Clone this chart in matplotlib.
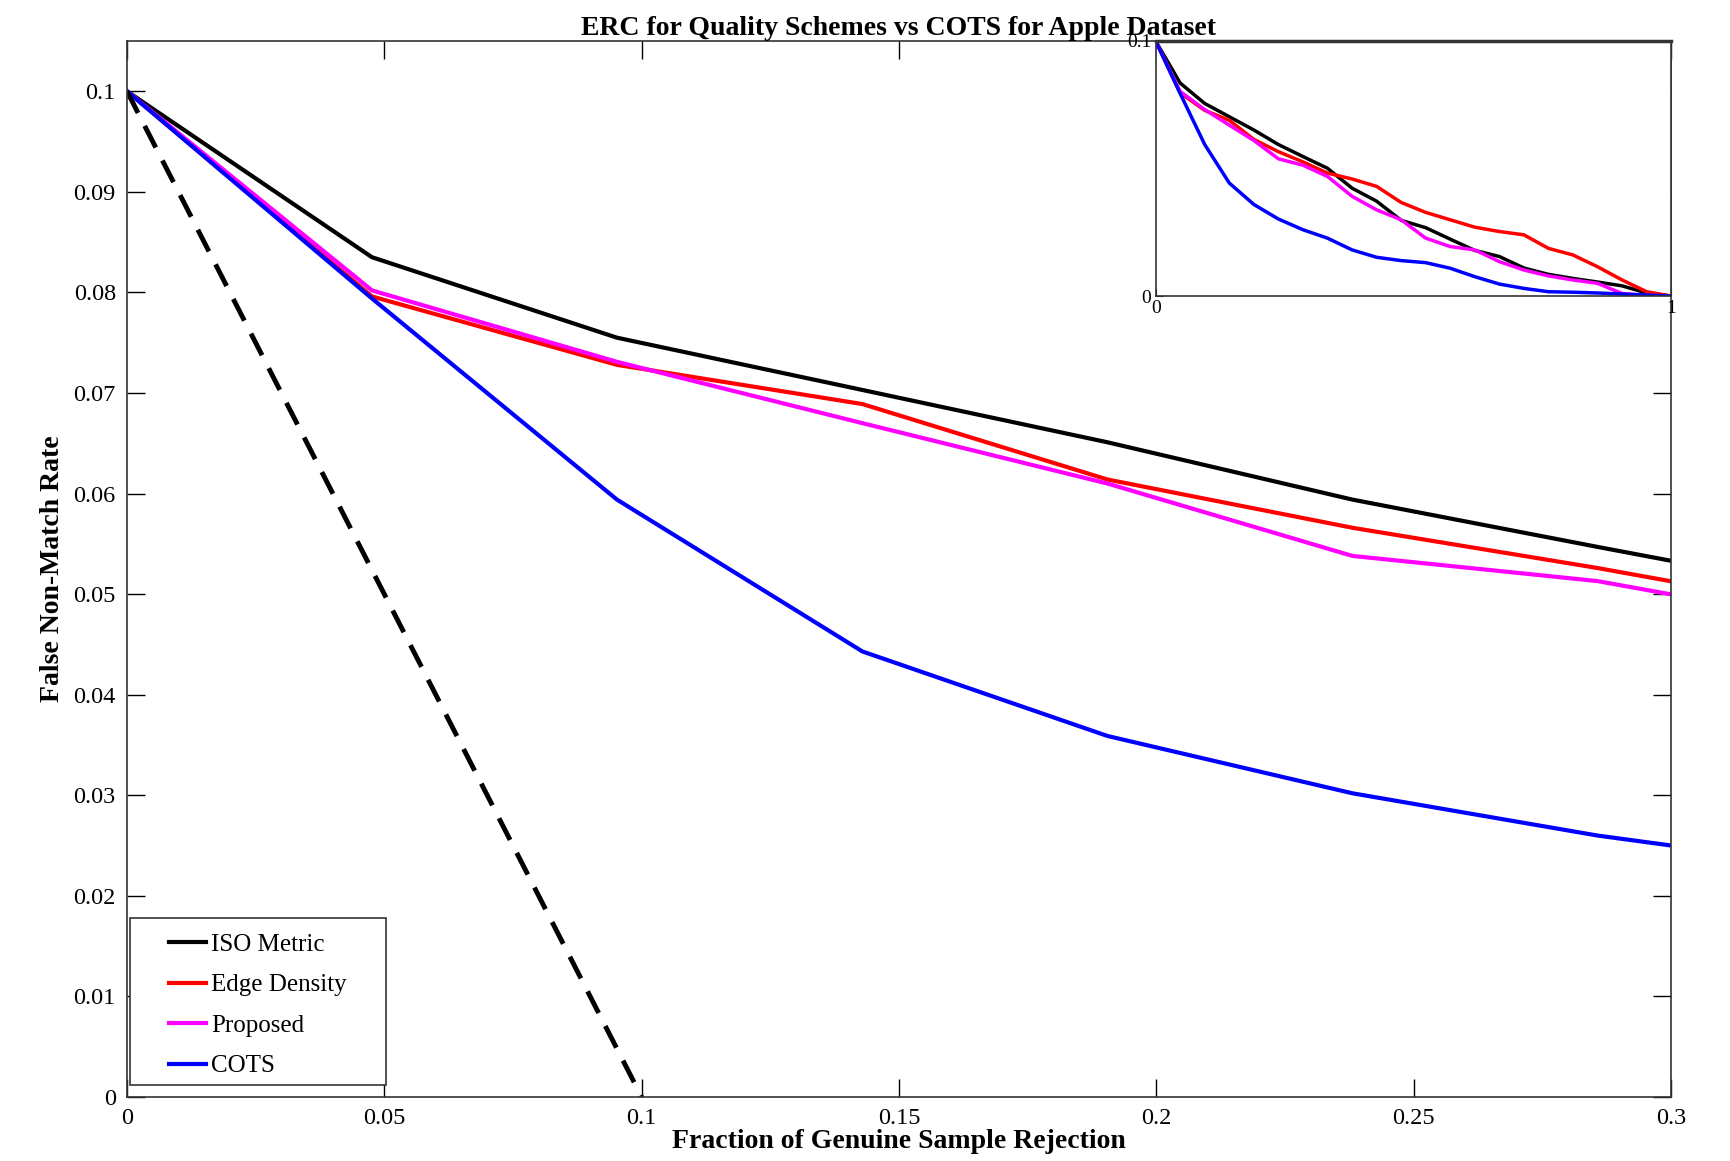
import numpy as np
import matplotlib
matplotlib.use('Agg')
import matplotlib.pyplot as plt
from matplotlib.patches import Rectangle

plt.rcParams['font.family'] = ['Liberation Serif', 'DejaVu Serif']

# fraction of genuine samples rejected (k/21 steps)
rejection = [0.0, 0.0476, 0.0952, 0.1429, 0.1905, 0.2381, 0.2857, 0.3333, 0.3810, 0.4286, 0.4762,
             0.5238, 0.5714, 0.6190, 0.6667, 0.7143, 0.7619, 0.8095, 0.8571, 0.9048, 0.9524, 1.0]

iso_fnmr = [0.1, 0.0835, 0.0755, 0.0703, 0.0651, 0.0594, 0.0547, 0.0501, 0.0423, 0.0372, 0.0297,
            0.0268, 0.0223, 0.0179, 0.0155, 0.0110, 0.0085, 0.0069, 0.0055, 0.0040, 0.0012, 0.0]
edge_fnmr = [0.1, 0.0796, 0.0728, 0.0689, 0.0614, 0.0566, 0.0526, 0.0482, 0.0459, 0.0430, 0.0367,
             0.0328, 0.0299, 0.0270, 0.0253, 0.0240, 0.0187, 0.0161, 0.0115, 0.0063, 0.0017, 0.0]
proposed_fnmr = [0.1, 0.0802, 0.0731, 0.0670, 0.0610, 0.0538, 0.0513, 0.0469, 0.0391, 0.0338, 0.0299,
                 0.0227, 0.0194, 0.0181, 0.0135, 0.0102, 0.0079, 0.0063, 0.0050, 0.0010, 0.0002, 0.0]
cots_fnmr = [0.1, 0.0794, 0.0594, 0.0443, 0.0359, 0.0302, 0.0260, 0.0227, 0.0181, 0.0152, 0.0139,
             0.0131, 0.0109, 0.0076, 0.0047, 0.0030, 0.0017, 0.0015, 0.0012, 0.0008, 0.0004, 0.0]

# ideal ERC (dashed)
ideal_x = [0.0, 0.1]
ideal_y = [0.1, 0.0]

series = [('ISO Metric', iso_fnmr, '#000000'),
          ('Edge Density', edge_fnmr, '#ff0000'),
          ('Proposed', proposed_fnmr, '#ff00ff'),
          ('COTS', cots_fnmr, '#0000ff')]

fig = plt.figure(figsize=(17.3, 11.61), dpi=100)
ax = fig.add_axes([0.0734, 0.0551, 0.8925, 0.9096])

for name, vals, col in series:
    ax.plot(rejection, vals, color=col, lw=3, label=name)
ax.plot(ideal_x, ideal_y, color='black', lw=3.5, ls=(0, (5, 3)))

ax.set_xlim(0, 0.3)
ax.set_ylim(0, 0.105)
ax.set_xticks([0, 0.05, 0.1, 0.15, 0.2, 0.25, 0.3])
ax.set_xticklabels(['0', '0.05', '0.1', '0.15', '0.2', '0.25', '0.3'])
ax.set_yticks(np.arange(0, 0.101, 0.01))
ax.set_yticklabels(['0'] + ['%.2f' % v for v in np.arange(0.01, 0.091, 0.01)] + ['0.1'])
ax.tick_params(direction='in', length=13, width=1, top=True, right=True, labelsize=17.5, pad=8)
for sp in ax.spines.values():
    sp.set_linewidth(1.2)
    sp.set_color('#333333')

ax.set_title('ERC for Quality Schemes vs COTS for Apple Dataset', fontsize=20, fontweight='bold', pad=4)
ax.set_xlabel('Fraction of Genuine Sample Rejection', fontsize=20, fontweight='bold', labelpad=0)
ax.set_ylabel('False Non-Match Rate', fontsize=20, fontweight='bold', labelpad=6)

# legend box drawn by hand (MATLAB style padding)
ax.add_patch(Rectangle((0.0019, 0.0114), 0.1658, 0.1581, transform=ax.transAxes,
                       facecolor='white', edgecolor='#333333', lw=1.2, zorder=4))
leg = ax.legend(loc='upper left', bbox_to_anchor=(0.0272, 0.155), fontsize=18, frameon=False,
                handlelength=1.48, handletextpad=0.2, labelspacing=0.72, borderpad=0,
                borderaxespad=0)
leg.set_zorder(5)

# inset with full range
ins = fig.add_axes([0.668, 0.745, 0.298, 0.2197])
for name, vals, col in series:
    ins.plot(rejection, vals, color=col, lw=2.5)
ins.set_xlim(0, 1)
ins.set_ylim(0, 0.1)
ins.set_xticks([0, 1])
ins.set_xticklabels(['0', '1'])
ins.set_yticks([0, 0.1])
ins.set_yticklabels(['0', '0.1'])
ins.tick_params(direction='in', length=5, labelsize=14, pad=3)
for sp in ins.spines.values():
    sp.set_linewidth(1.2)
    sp.set_color('#333333')
ins.spines['top'].set_linewidth(2.5)

fig.savefig('out.png', dpi=100)
